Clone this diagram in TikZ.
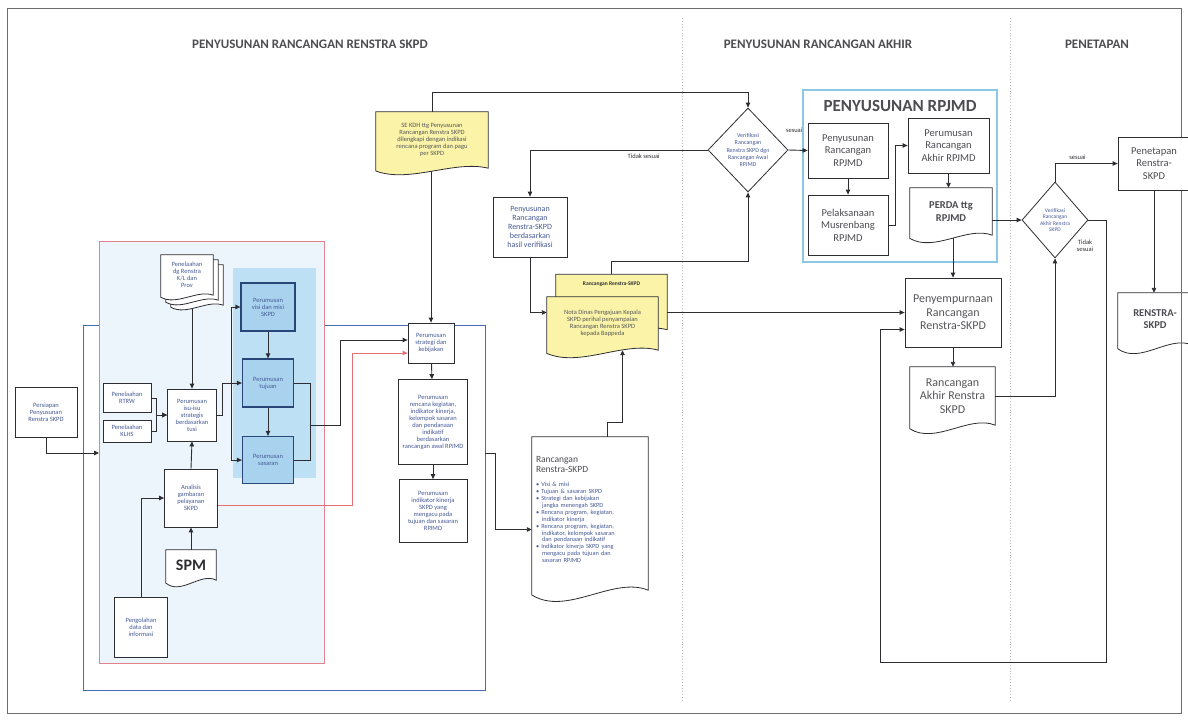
\documentclass[tikz,border=0pt]{standalone}
\usepackage{fontspec}
\setmainfont{Carlito}
\usetikzlibrary{arrows.meta,shapes.geometric,calc}

\definecolor{tinta}{RGB}{45,45,50}
\definecolor{birutxt}{RGB}{70,90,150}
\definecolor{birubingkai}{RGB}{70,110,180}
\definecolor{merahbingkai}{RGB}{225,130,140}
\definecolor{birumuda}{RGB}{236,245,251}
\definecolor{birugrup}{RGB}{190,224,244}
\definecolor{birukotak}{RGB}{168,210,238}
\definecolor{birutua}{RGB}{40,70,120}
\definecolor{kuning}{RGB}{250,243,168}
\definecolor{cyanbingkai}{RGB}{140,200,228}

\newcommand{\fkecil}{\fontsize{6.5}{7}\selectfont}
\newcommand{\fmini}{\fontsize{6.3}{6.9}\selectfont}
\newcommand{\fsedang}{\fontsize{10.5}{12.5}\selectfont}
\newcommand{\fbesar}{\fontsize{12}{13.5}\selectfont}
\newcommand{\fjudul}{\fontsize{13}{15}\selectfont\bfseries}
\newcommand{\butir}{\hangindent=6pt\hangafter=1 \textbullet\ }

\pgfdeclarelayer{latar}
\pgfdeclarelayer{kertas}
\pgfsetlayers{latar,kertas,main}

% bentuk dokumen: bawah bergelombang
\newcommand{\kertas}[4][0pt,0pt]{%
  \begin{pgfonlayer}{kertas}
  \filldraw[fill=#3, draw=tinta, line width=0.8pt]
    ([shift={(#1)}]#2.north west) -- ([shift={(#1)}]#2.north east)
    -- ([shift={(#1)}]#2.south east)
    .. controls ($([shift={(#1)}]#2.south east)!0.3!([shift={(#1)}]#2.south west)+(0pt,1.2*#4pt)$)
       and ($([shift={(#1)}]#2.south east)!0.7!([shift={(#1)}]#2.south west)+(0pt,-2.2*#4pt)$)
    .. ($([shift={(#1)}]#2.south west)+(0pt,-0.4*#4pt)$) -- cycle;
  \end{pgfonlayer}}

\begin{document}
\begin{tikzpicture}[x=1pt,y=-1pt,
    kotak/.style={draw=tinta, line width=0.8pt, fill=white, align=center,
      inner sep=1pt, text=birutxt, font=\fkecil},
    kotakbiru/.style={kotak, draw=birutua, line width=1.3pt, fill=birukotak},
    kotakrpjmd/.style={kotak, text=tinta!85, font=\fsedang},
    dok/.style={align=center, inner sep=1pt, text=birutxt, font=\fkecil},
    belah/.style={diamond, draw=tinta, line width=0.8pt, fill=white, align=center,
      inner sep=0pt, text=birutxt},
    panah/.style={draw=tinta, line width=0.9pt, -{Triangle[length=5pt,width=4.5pt]}},
    judul/.style={font=\fjudul, text=tinta!85},
    ket/.style={font=\fkecil, text=tinta, align=center}]

\useasboundingbox (0,0) rectangle (1188,721);
\clip (0,0) rectangle (1188,721);

% bingkai halaman
\draw[tinta!70, line width=0.8pt] (7,8) rectangle (1181,713);

% pemisah tahap
\draw[gray!55, dotted, line width=0.9pt] (682,18) -- (682,700);
\draw[gray!55, dotted, line width=0.9pt] (1010,18) -- (1010,700);

% judul tahap
\node[judul] (judul1) at (310,44) {PENYUSUNAN RANCANGAN RENSTRA SKPD};
\node[judul] (judul2) at (818,44) {PENYUSUNAN RANCANGAN AKHIR};
\node[judul] (judul3) at (1097,44) {PENETAPAN};

% area latar
\begin{pgfonlayer}{latar}
  \draw[birubingkai, line width=1pt] (83,325) rectangle (485,690);
  \filldraw[fill=birumuda, draw=merahbingkai, line width=0.8pt] (99,241) rectangle (324,663);
  \fill[birugrup] (233,268) rectangle (316,478);
  \filldraw[fill=white, draw=cyanbingkai, line width=1.5pt] (803,90) rectangle (997,262);
\end{pgfonlayer}
\coordinate (masuk) at (99,453);
\coordinate (keluar) at (485,453);

% --- tahap rancangan renstra
\node[kotak, minimum width=62pt, minimum height=50pt] (persiapan) at (46,412) {Persiapan\\Penyusunan\\Renstra SKPD};
\node[kotak, minimum width=48pt, minimum height=29pt] (telaahrtrw) at (127,398) {Penelaahan\\RTRW};
\node[kotak, minimum width=48pt, minimum height=22pt] (telaahklhs) at (127,431) {Penelaahan\\KLHS};
\node[kotak, minimum width=49pt, minimum height=52pt] (isu) at (192,415) {Perumusan\\isu-isu\\strategis\\berdasarkan\\tusi};
\node[kotak, minimum width=53pt, minimum height=58pt] (analisis) at (191,498) {Analisis\\gambaran\\pelayanan\\SKPD};
\node[dok, minimum width=50pt, minimum height=30pt, font=\fontsize{16}{18}\selectfont\bfseries, text=tinta] (spm) at (191,565) {SPM};
\kertas{spm}{white}{7}
\node[kotak, minimum width=53pt, minimum height=60pt] (olahdata) at (141,627) {Pengolahan\\data dan\\informasi};
\node[dok, minimum width=52pt, minimum height=40pt] (telaah) at (187,275) {Penelaahan\\dg Renstra\\K/L dan\\Prov};
\kertas[10pt,-10pt]{telaah}{white}{5}
\kertas[5pt,-5pt]{telaah}{white}{5}
\kertas{telaah}{white}{5}

\node[kotakbiru, minimum width=54pt, minimum height=48pt] (visi) at (268,307) {Perumusan\\visi dan misi\\SKPD};
\node[kotakbiru, minimum width=51pt, minimum height=48pt] (tujuan) at (268,383) {Perumusan\\tujuan};
\node[kotakbiru, minimum width=51pt, minimum height=47pt] (sasaran) at (268,460) {Perumusan\\sasaran};

\node[kotak, minimum width=46pt, minimum height=40pt] (strategi) at (431,343) {Perumusan\\strategi dan\\kebijakan};
\node[kotak, minimum width=69pt, minimum height=85pt] (rencana) at (433,422) {Perumusan\\rencana kegiatan,\\indikator kinerja,\\kelompok sasaran\\dan pendanaan\\indikatif\\berdasarkan\\rancangan awal RPJMD};
\node[kotak, minimum width=68pt, minimum height=63pt] (indikator) at (433,511) {Perumusan\\indikator kinerja\\SKPD yang\\mengacu pada\\tujuan dan sasaran\\RPJMD};

\node[dok, minimum width=112pt, minimum height=56pt, text=tinta!80] (seKDH) at (432,140) {SE KDH ttg Penyusunan\\Rancangan Renstra SKPD\\dilengkapi dengan indikasi\\rencana program dan pagu\\per SKPD};
\kertas{seKDH}{kuning}{7}

\node[kotak, minimum width=74pt, minimum height=60pt, font=\fontsize{8}{8.8}\selectfont] (penyRR) at (530,227) {Penyusunan\\Rancangan\\Renstra-SKPD\\berdasarkan\\hasil verifikasi};

\node[dok, minimum width=111pt, minimum height=55pt,
  label={[anchor=north, yshift=-4pt, font=\fontsize{5.5}{6.5}\selectfont\bfseries, text=tinta]north:Rancangan Renstra-SKPD}] (rrskpd) at (611.5,302) {};
\kertas{rrskpd}{kuning}{7}
\node[dok, minimum width=111pt, minimum height=53pt, text=tinta!80] (ndinas) at (602.5,323.5) {Nota Dinas Pengajuan Kepala\\SKPD perihal penyampaian\\Rancangan Renstra SKPD\\kepada Bappeda};
\kertas{ndinas}{kuning}{8}

\node[dok, minimum width=116pt, minimum height=153pt, text width=108pt, align=left] (rancangan) at (590,513.5) {%
  {\fontsize{9.5}{10.5}\selectfont\color{tinta!85} Rancangan\\Renstra-SKPD\par}\vspace{7pt}
  {\fmini
  \butir Visi \& misi\par
  \butir Tujuan \& sasaran SKPD\par
  \butir Strategi dan kebijakan\hfil\break jangka menengah SKPD\par
  \butir Rencana program, kegiatan,\hfil\break indikator kinerja\par
  \butir Rencana program, kegiatan,\hfil\break indikator, kelompok sasaran\hfil\break dan pendanaan indikatif\par
  \butir Indikator kinerja SKPD yang\hfil\break mengacu pada tujuan dan\hfil\break sasaran RPJMD\par}\vspace*{8pt}};
\kertas{rancangan}{white}{12}

\node[belah, minimum width=80pt, minimum height=84pt, font=\fontsize{6}{7.2}\selectfont] (d1) at (748,150) {Verifikasi\\Rancangan\\Renstra SKPD dgn\\Rancangan Awal\\RPJMD};

% --- tahap rancangan akhir
\node[font=\fontsize{17}{19}\selectfont\bfseries, text=tinta!85] (judulrpjmd) at (900,106) {PENYUSUNAN RPJMD};
\node[kotakrpjmd, minimum width=80pt, minimum height=55pt] (penyRPJMD) at (848,150.5) {Penyusunan\\Rancangan\\RPJMD};
\node[kotakrpjmd, minimum width=80pt, minimum height=60pt] (musren) at (848,225) {Pelaksanaan\\Musrenbang\\RPJMD};
\node[kotakrpjmd, minimum width=81pt, minimum height=55pt] (akhirRPJMD) at (948.5,145.5) {Perumusan\\Rancangan\\Akhir RPJMD};
\node[dok, minimum width=82pt, minimum height=47pt, font=\fsedang\bfseries, text=tinta!85] (perda) at (951,211.5) {PERDA ttg\\RPJMD};
\kertas{perda}{white}{8}

\node[kotak, minimum width=96pt, minimum height=69pt, font=\fbesar, text=tinta!80] (penyemp) at (953,312.5) {Penyempurnaan\\Rancangan\\Renstra-SKPD};
\node[dok, minimum width=85pt, minimum height=58pt, font=\fbesar, text=tinta!80] (akhirRenstra) at (952.5,396) {Rancangan\\Akhir Renstra\\SKPD};
\kertas{akhirRenstra}{white}{9}

\node[belah, minimum width=66pt, minimum height=76pt, font=\fontsize{5.5}{6.5}\selectfont] (d2) at (1055,220) {Verifikasi\\Rancangan\\Akhir Renstra\\SKPD};

% --- tahap penetapan
\node[kotak, minimum width=72pt, minimum height=53pt, font=\fsedang, text=tinta!85] (penetapan) at (1154,163.5) {Penetapan\\Renstra-\\SKPD};
\node[dok, minimum width=74pt, minimum height=52pt, font=\fsedang\bfseries, text=tinta!85] (renstra) at (1155,319) {RENSTRA-\\SKPD};
\kertas{renstra}{white}{9}

% --- penghubung
\draw[panah] (persiapan.south) |- (masuk);
\draw[panah] (telaahrtrw.east) -- ++(5,0) |- (isu.west);
\draw[panah] (telaahklhs.east) -- ++(5,0) |- (isu.west);
\begin{pgfonlayer}{latar}
  \draw[panah] (telaah.south -| isu.north) -- (isu.north);
  \draw[panah] (seKDH.south -| strategi.north) -- (strategi.north);
  \draw[panah] (perda.south -| penyemp.north) -- (penyemp.north);
\end{pgfonlayer}
\draw[panah] (olahdata.north) |- (analisis.west);
\draw[panah] (spm.north) -- (analisis.south);
\draw[panah] (analisis.north) -- (isu.south);
\draw[panah] (isu.east) -- ++(6,0) |- (tujuan.west);
\coordinate (bus) at (231,383);
\draw[panah] (bus) |- (visi.west);
\draw[panah] (bus) |- (sasaran.west);
\draw[panah] (visi) -- (tujuan);
\draw[panah] (tujuan) -- (sasaran);
\draw[draw=tinta, line width=0.9pt] (tujuan.east) -- ++(16,0) |- (sasaran.east);
\coordinate (gabung) at (309.5,425);
\draw[panah] (gabung) -- (340,425) |- ([yshift=3pt]strategi.west);
\draw[panah, draw=merahbingkai!85!red] ([yshift=-7pt]analisis.east) -- (352,505) |- ([yshift=-10pt]strategi.west);
\draw[panah] (seKDH.north) -- ++(0,-19) -| (d1.north);
\draw[panah] (strategi) -- (rencana);
\draw[panah] (rencana) -- (indikator);
\draw[panah] (keluar) -- (495,453) |- ([yshift=-16pt]rancangan.west);
\draw[panah] (d1.west) -| node[pos=0.18, below, ket] {Tidak sesuai} (penyRR.north);
\draw[panah] (penyRR.south) |- ([yshift=11pt]ndinas.west);
\draw[panah] ([xshift=17pt]rancangan.north) -- ++(0,-14) -| ([xshift=20pt]ndinas.south);
\draw[panah] (rrskpd.north) -- ++(0,-13) -| (d1.south);
\draw[panah] (penyemp.west -| rrskpd.east) -- (penyemp.west);
\draw[panah] (d1.east) -- node[pos=0.3, above=14pt, ket] {sesuai} (penyRPJMD.west);
\draw[panah] (penyRPJMD) -- (musren);
\draw[panah] (musren.east) -- ++(7,0) |- (akhirRPJMD.west);
\draw[panah] (akhirRPJMD.south) -- (akhirRPJMD.south |- perda.north);
\draw[panah] (perda.east |- d2.west) -- (d2.west);
\draw[panah] (d2.north) |- node[pos=0.68, above, ket] {sesuai} (penetapan.west);
\draw[panah] (d2.east) -- (1106,220) -- (1106,662) -- (880,662) |- ([yshift=-17pt]penyemp.west);
\node[ket] (tidak2) at (1085,246) {Tidak\\sesuai};
\draw[panah] (penetapan.south) -- (penetapan.south |- renstra.north);
\draw[panah] (penyemp.south) -- (penyemp.south |- akhirRenstra.north);
\draw[panah] (akhirRenstra.east) -| (d2.south);

\end{tikzpicture}
\end{document}
